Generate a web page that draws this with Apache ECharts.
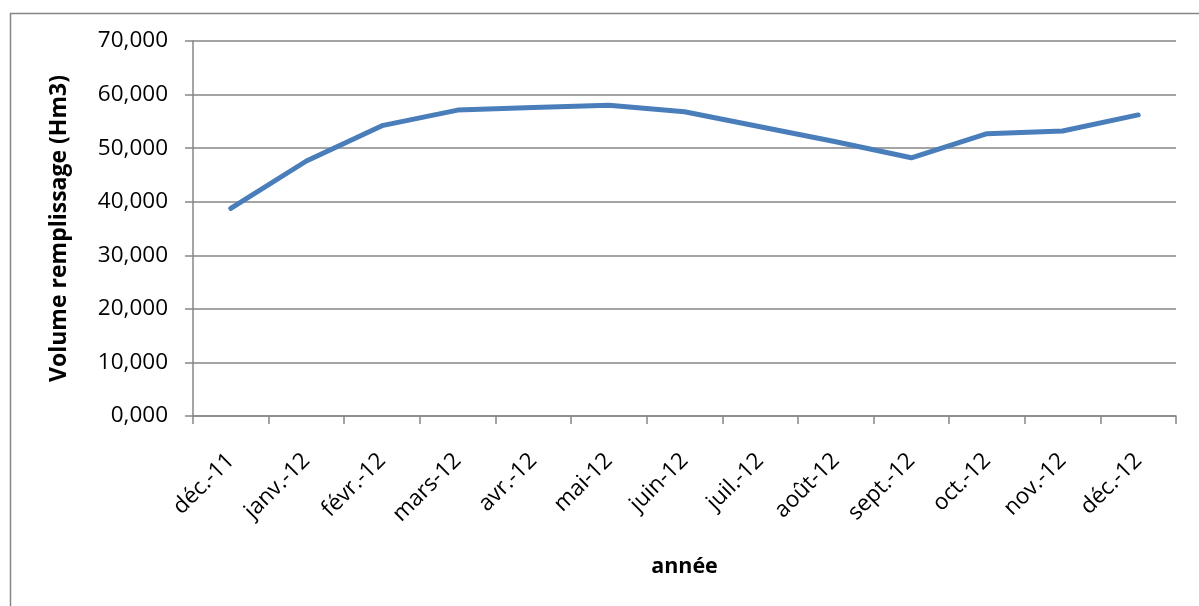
<!DOCTYPE html>
<html><head><meta charset="utf-8">
<script src="https://cdn.jsdelivr.net/npm/echarts@6/dist/echarts.min.js"></script>
<style>html,body{margin:0;padding:0;background:#fff}#c{width:1199px;height:606px}</style>
</head><body><div id="c"></div>
<script>
const categories = ['déc.-11','janv.-12','févr.-12','mars-12','avr.-12','mai-12','juin-12','juil.-12','août-12','sept.-12','oct.-12','nov.-12','déc.-12'];
const volumes = [38.75, 47.6, 54.2, 57.1, 57.6, 58.0, 56.8, 54.0, 51.2, 48.2, 52.7, 53.2, 56.2];
const yTicks = [0, 10, 20, 30, 40, 50, 60, 70];
const yAxisName = 'Volume remplissage (Hm3)';
const xAxisName = 'année';

const font = '"Open Sans", "Liberation Sans", sans-serif';
const chart = echarts.init(document.getElementById('c'), null, {renderer:'canvas'});
chart.setOption({
  animation:false,
  backgroundColor:'#fff',
  graphic:[{type:'rect', left:8, top:11, shape:{width:1400, height:800}, style:{fill:'none', stroke:'#868686', lineWidth:1.5}, silent:true, z:-1}],
  grid:{left:193, right:23, top:41, bottom:190, containLabel:false},
  xAxis:{
    type:'category', data:categories, boundaryGap:true,
    axisLine:{lineStyle:{color:'#868686', width:1.5}},
    axisTick:{show:true, length:8, lineStyle:{color:'#868686', width:1.5}},
    axisLabel:{rotate:45, fontSize:22.5, color:'#000', fontFamily:font, margin:41, interval:0},
    name:xAxisName, nameLocation:'middle', nameGap:140,
    nameTextStyle:{fontSize:21.5, fontWeight:'bold', color:'#000', fontFamily:font}
  },
  yAxis:{
    type:'value', min:yTicks[0], max:yTicks[yTicks.length-1], interval:10,
    axisLine:{show:true, lineStyle:{color:'#868686', width:1.5}},
    axisTick:{show:true, length:8, lineStyle:{color:'#868686', width:1.5}},
    splitLine:{show:true, lineStyle:{color:'#868686', width:1.5}},
    axisLabel:{fontSize:22.5, color:'#000', fontFamily:font, margin:25,
      formatter:v => (v === 0 ? '0' : String(v)) + ',000'},
    name:yAxisName, nameLocation:'middle', nameGap:122, nameRotate:90,
    nameTextStyle:{fontSize:23, fontWeight:'bold', color:'#000', fontFamily:font}
  },
  series:[{type:'line', data:volumes, symbol:'none', smooth:false,
    lineStyle:{color:'#4A7EBB', width:5, cap:'round', join:'round'}}]
});
</script></body></html>
